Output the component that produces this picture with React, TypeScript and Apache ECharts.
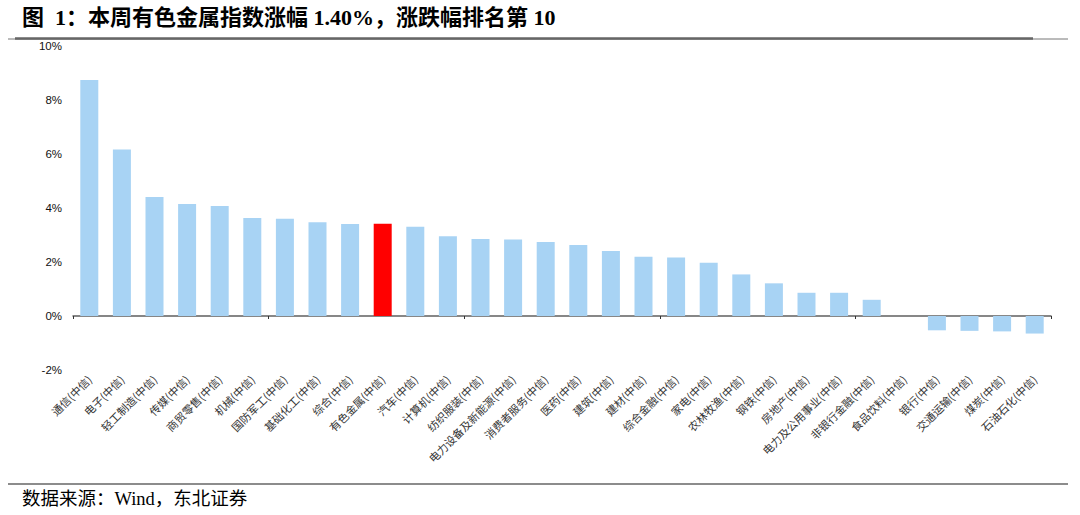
import React, { useEffect, useRef } from "react";
import * as echarts from "echarts";

const categories = [
  "通信(中信)", "电子(中信)", "轻工制造(中信)", "传媒(中信)", "商贸零售(中信)",
  "机械(中信)", "国防军工(中信)", "基础化工(中信)", "综合(中信)", "有色金属(中信)",
  "汽车(中信)", "计算机(中信)", "纺织服装(中信)", "电力设备及新能源(中信)", "消费者服务(中信)",
  "医药(中信)", "建筑(中信)", "建材(中信)", "综合金融(中信)", "家电(中信)",
  "农林牧渔(中信)", "钢铁(中信)", "房地产(中信)", "电力及公用事业(中信)", "非银行金融(中信)",
  "食品饮料(中信)", "银行(中信)", "交通运输(中信)", "煤炭(中信)", "石油石化(中信)",
];

const values = [
  8.74, 6.17, 4.41, 4.15, 4.07,
  3.63, 3.6, 3.47, 3.41, 3.42,
  3.31, 2.95, 2.85, 2.83, 2.74,
  2.63, 2.41, 2.19, 2.17, 1.97,
  1.54, 1.21, 0.86, 0.86, 0.6,
  0, -0.53, -0.55, -0.57, -0.65,
];

const highlight = "有色金属(中信)";

const titleText = "图  1：本周有色金属指数涨幅 1.40%，涨跌幅排名第 10";
const sourceText = "数据来源：Wind，东北证券";

export default function App() {
  const ref = useRef<HTMLDivElement>(null);
  useEffect(() => {
    if (!ref.current) return;
    const chart = echarts.init(ref.current, null, { renderer: "svg" });
    const serif = "'Liberation Serif', 'Noto Sans CJK SC', serif";
    chart.setOption({
      animation: false,
      backgroundColor: "#ffffff",
      grid: { left: 73, right: 29, top: 46, bottom: 145, containLabel: false },
      xAxis: [
        {
          type: "category",
          data: categories,
          axisLine: { onZero: true, lineStyle: { color: "#5f5f5f", width: 1.5 } },
          axisTick: { show: true, length: 3, lineStyle: { color: "#333", width: 1 } },
          axisLabel: { show: false },
        },
        {
          type: "category",
          data: categories,
          position: "bottom",
          axisLine: { show: false, onZero: false },
          axisTick: { show: false },
          axisLabel: {
            show: true,
            rotate: 45,
            interval: 0,
            margin: 7,
            fontSize: 11,
            color: "#333",
            fontFamily: "'Noto Sans CJK SC', sans-serif",
          },
        },
      ],
      yAxis: {
        type: "value",
        min: -2,
        max: 10,
        interval: 2,
        splitLine: { show: false },
        axisLine: { show: false },
        axisTick: { show: false },
        axisLabel: {
          formatter: (v: number) => `${v}%`,
          fontSize: 11.5,
          color: "#111",
          margin: 11,
          fontFamily: "'Liberation Sans', Arial, sans-serif",
        },
      },
      series: [
        {
          type: "bar",
          xAxisIndex: 0,
          barWidth: 18,
          data: values.map((v, i) => ({
            value: v,
            itemStyle: { color: categories[i] === highlight ? "#ff0000" : "#a8d3f4" },
          })),
        },
      ],
      graphic: [
        {
          type: "text",
          left: 22,
          top: 6,
          style: {
            text: titleText,
            font: `bold 22px ${serif}`,
            fill: "#000",
          },
        },
        {
          type: "line",
          shape: { x1: 8, y1: 39, x2: 1068, y2: 39 },
          style: { stroke: "#777", lineWidth: 1 },
        },
        {
          type: "line",
          shape: { x1: 15, y1: 38.5, x2: 1033, y2: 38.5 },
          style: { stroke: "#666", lineWidth: 2.5 },
        },
        {
          type: "line",
          shape: { x1: 8, y1: 484, x2: 1068, y2: 484 },
          style: { stroke: "#666", lineWidth: 1.5 },
        },
        {
          type: "text",
          left: 22,
          top: 490,
          style: {
            text: sourceText,
            font: `18.5px ${serif}`,
            fill: "#000",
          },
        },
      ],
    });
    return () => chart.dispose();
  }, []);
  return (
    <div
      ref={ref}
      style={{ position: "fixed", left: 0, top: 0, width: 1080, height: 515, background: "#fff" }}
    />
  );
}
